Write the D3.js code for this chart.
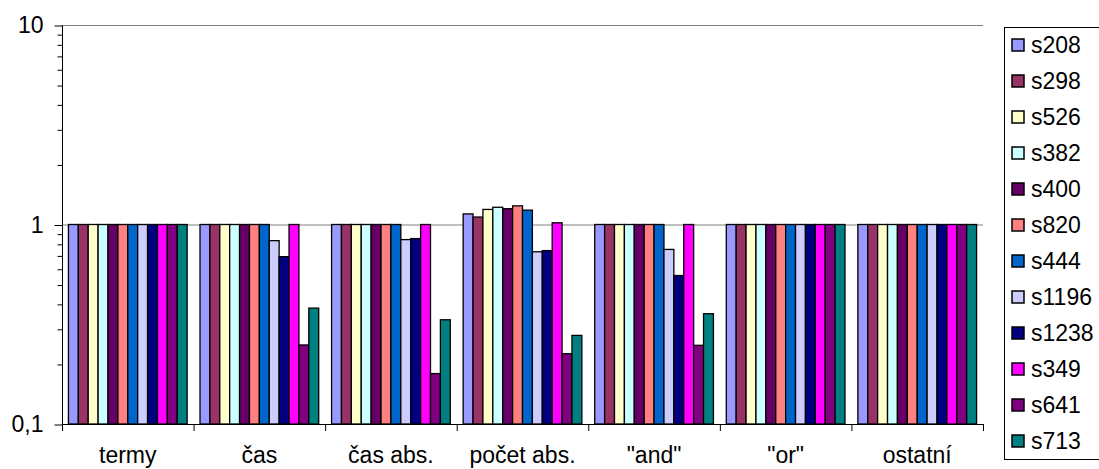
<!DOCTYPE html>
<meta charset="utf-8">
<html>
<style>
  body { margin: 0; background: #fff; }
  text { font-family: "Liberation Sans", Arial, sans-serif; fill: #000; }
</style>
<body>
<script src="https://d3js.org/d3.v7.min.js"></script>
<script>
// categories along the x axis
var categories = ["termy", "čas", "čas abs.", "počet abs.", "\"and\"", "\"or\"", "ostatní"];
// series names and their colours
var seriesNames = ["s208", "s298", "s526", "s382", "s400", "s820", "s444", "s1196", "s1238", "s349", "s641", "s713"];
var seriesColors = ["#9999FF", "#993366", "#FFFFCC", "#CCFFFF", "#660066", "#FF8080", "#0066CC", "#CCCCFF", "#000080", "#FF00FF", "#800080", "#008080"];
// one row per series, one value per category
var s208  = [1, 1,    1,    1.13, 1,     1, 1];
var s298  = [1, 1,    1,    1.09, 1,     1, 1];
var s526  = [1, 1,    1,    1.19, 1,     1, 1];
var s382  = [1, 1,    1,    1.22, 1,     1, 1];
var s400  = [1, 1,    1,    1.20, 1,     1, 1];
var s820  = [1, 1,    1,    1.24, 1,     1, 1];
var s444  = [1, 1,    1,    1.18, 1,     1, 1];
var s1196 = [1, 0.83, 0.84, 0.73, 0.75,  1, 1];
var s1238 = [1, 0.69, 0.85, 0.74, 0.555, 1, 1];
var s349  = [1, 1,    1,    1.02, 1,     1, 1];
var s641  = [1, 0.249, 0.179, 0.225, 0.248, 1, 1];
var s713  = [1, 0.381, 0.333, 0.278, 0.357, 1, 1];
var seriesValues = [s208, s298, s526, s382, s400, s820, s444, s1196, s1238, s349, s641, s713];
// y axis ticks
var majorTicks = [0.1, 1, 10];
var majorLabels = ["0,1", "1", "10"];
var minorTicks = [0.2, 0.3, 0.4, 0.5, 0.6, 0.7, 0.8, 0.9, 2, 3, 4, 5, 6, 7, 8, 9];

var W = 1099, H = 469;
var plotL = 62, plotR = 983, plotT = 25, plotB = 424;

var svg = d3.select("body").append("svg")
    .attr("width", W).attr("height", H);

var y = d3.scaleLog().domain([0.1, 10]).range([plotB, plotT]);
var x0 = d3.scaleBand().domain(categories).range([plotL, plotR]);
var x1 = d3.scaleBand().domain(seriesNames).range([0, x0.bandwidth()])
    .paddingInner(0).paddingOuter(0.65);

// gridlines at the major ticks
svg.append("g").selectAll("line")
    .data([1, 10]).enter().append("line")
    .attr("x1", plotL).attr("x2", plotR)
    .attr("y1", function (d) { return y(d) + 0.5; })
    .attr("y2", function (d) { return y(d) + 0.5; })
    .style("stroke", "#808080").style("stroke-width", 1);

// bars
var flat = [];
categories.forEach(function (c, ci) {
  seriesNames.forEach(function (s, si) {
    flat.push({ cat: c, name: s, color: seriesColors[si], value: seriesValues[si][ci] });
  });
});
svg.append("g").selectAll("rect")
    .data(flat).enter().append("rect")
    .attr("x", function (d) { return x0(d.cat) + x1(d.name); })
    .attr("width", x1.bandwidth())
    .attr("y", function (d) { return y(d.value); })
    .attr("height", function (d) { return y(0.1) - y(d.value); })
    .style("fill", function (d) { return d.color; })
    .style("stroke", "#000").style("stroke-width", 1.3);

// y axis, major and minor ticks
var yMajor = svg.append("g")
    .attr("transform", "translate(" + (plotL + 0.5) + ",0.5)")
    .call(d3.axisLeft(y).tickValues(majorTicks).tickSize(8).tickPadding(11)
      .tickFormat(function (d, i) { return majorLabels[i]; }));
svg.append("g")
    .attr("transform", "translate(" + (plotL + 0.5) + ",0.5)")
    .call(d3.axisLeft(y).tickValues(minorTicks).tickSize(5).tickFormat(""))
    .select(".domain").remove();
yMajor.select(".domain").attr("d", "M0," + plotT + "V" + plotB);
yMajor.selectAll("text").style("font-size", "23px")
    .style("font-family", "'Liberation Sans', Arial, sans-serif");

// x axis with ticks at category boundaries
var xg = svg.append("g");
xg.append("line")
    .attr("x1", plotL).attr("x2", plotR)
    .attr("y1", plotB + 0.5).attr("y2", plotB + 0.5)
    .style("stroke", "#000");
xg.selectAll("line.tick")
    .data(categories.concat([null])).enter().append("line")
    .attr("class", "tick")
    .attr("x1", function (d) { return (d ? x0(d) : plotR) + 0.5; })
    .attr("x2", function (d) { return (d ? x0(d) : plotR) + 0.5; })
    .attr("y1", plotB).attr("y2", plotB + 7)
    .style("stroke", "#000");
xg.selectAll("text")
    .data(categories).enter().append("text")
    .attr("x", function (d) { return x0(d) + x0.bandwidth() / 2; })
    .attr("y", 463)
    .attr("text-anchor", "middle")
    .style("font-size", "23px")
    .text(function (d) { return d; });

// legend
var lg = svg.append("g");
lg.append("rect")
    .attr("x", 1004.5).attr("y", 27.5)
    .attr("width", 120).attr("height", 432)
    .style("fill", "#fff").style("stroke", "#000");
var items = lg.selectAll("g.item")
    .data(seriesNames).enter().append("g")
    .attr("class", "item")
    .attr("transform", function (d, i) { return "translate(0," + (45 + i * 36) + ")"; });
items.append("rect")
    .attr("x", 1012).attr("y", -6)
    .attr("width", 12).attr("height", 12)
    .style("fill", function (d, i) { return seriesColors[i]; })
    .style("stroke", "#000").style("stroke-width", 1.5);
items.append("text")
    .attr("x", 1031).attr("dy", "0.35em")
    .style("font-size", "23px")
    .text(function (d) { return d; });
</script>
</body>
</html>
